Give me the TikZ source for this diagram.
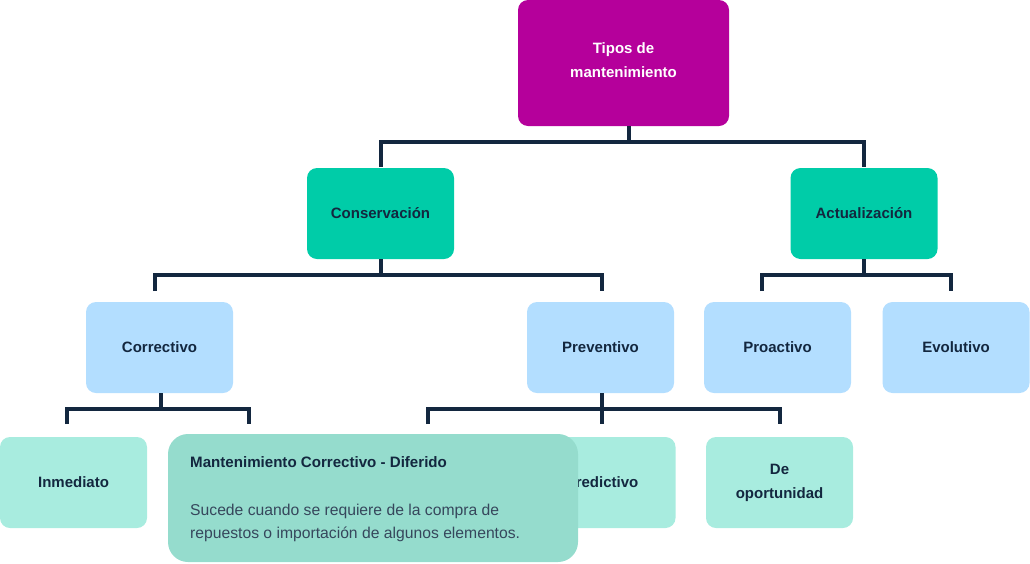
\documentclass[tikz,border=0pt]{standalone}
\usepackage{fontspec}
\setmainfont{Liberation Sans}
\definecolor{navy}{HTML}{13273F}
\definecolor{rootc}{HTML}{B5009B}
\definecolor{lvltwo}{HTML}{00CCA8}
\definecolor{lvlthree}{HTML}{B3DEFF}
\definecolor{lvlfour}{HTML}{A8ECDF}
\definecolor{popc}{HTML}{95DCCD}
\begin{document}
\begin{tikzpicture}[x=1pt,y=-1pt,
  box/.style={rounded corners=10pt, minimum width=147pt, minimum height=91pt,
    inner sep=0pt, align=center, text=navy,
    font=\fontsize{15}{24}\selectfont\bfseries},
  link/.style={draw=navy, line width=4pt},
  poptitle/.style={anchor=base west, inner sep=0pt, text=navy, font=\fontsize{15.1}{18}\selectfont\bfseries},
  popbody/.style={anchor=base west, inner sep=0pt, text=navy!85, font=\fontsize{15.7}{18}\selectfont}]
\useasboundingbox (0,0) rectangle (1030,563);
% boxes
\node[box, fill=rootc, text=white, minimum width=211pt, minimum height=126pt, text depth=6pt] (root) at (623.5,63) {Tipos de\\mantenimiento};
\node[box, fill=lvltwo] (cons) at (380.5,213.5) {Conservación};
\node[box, fill=lvltwo] (act) at (864,213.5) {Actualización};
\node[box, fill=lvlthree] (corr) at (159.5,347.5) {Correctivo};
\node[box, fill=lvlthree] (prev) at (600.5,347.5) {Preventivo};
\node[box, fill=lvlthree] (proa) at (777.5,347.5) {Proactivo};
\node[box, fill=lvlthree] (evol) at (956,347.5) {Evolutivo};
\node[box, fill=lvlfour] (inm) at (73.5,482.5) {Inmediato};
\node[box, fill=lvlfour] (pred) at (602,482.5) {Predictivo};
\node[box, fill=lvlfour] (opor) at (779.5,482.5) {De\\oportunidad};
% free ends
\coordinate (a1) at (381,167);
\coordinate (a2) at (864,167);
\coordinate (b1) at (155,291);
\coordinate (b2) at (602,291);
\coordinate (b3) at (762,291);
\coordinate (b4) at (951,291);
\coordinate (c1) at (67,424);
\coordinate (c2) at (249,424);
\coordinate (c3) at (428,424);
\coordinate (c4) at (780,424);
\coordinate (c5) at (602,424);
% connectors
\draw[link] ([xshift=5.5pt]root.south) -- ++(0,16) coordinate (j0);
\draw[link] (a1) |- (j0) -| (a2);
\draw[link] ([xshift=0.5pt]cons.south) -- ++(0,16) coordinate (j1);
\draw[link] (b1) |- (j1) -| (b2);
\draw[link] (act.south) -- ++(0,16) coordinate (j2);
\draw[link] (b3) |- (j2) -| (b4);
\draw[link] ([xshift=1.5pt]corr.south) -- ++(0,16) coordinate (j3);
\draw[link] (c1) |- (j3) -| (c2);
\draw[link] ([xshift=1.5pt]prev.south) -- (c5);
\draw[link] (c3) |- ([yshift=-16pt]prev.south) -| (c4);
% popup
\node[fill=popc, rounded corners=20pt, minimum width=410pt, minimum height=128pt, inner sep=0pt] (pop) at (373,498) {};
\node[poptitle] (ptitle) at (190,467) {Mantenimiento Correctivo - Diferido};
\node[popbody] (pline1) at (190,515) {Sucede cuando se requiere de la compra de};
\node[popbody] (pline2) at (190,538.5) {repuestos o importación de algunos elementos.};
\end{tikzpicture}
\end{document}
